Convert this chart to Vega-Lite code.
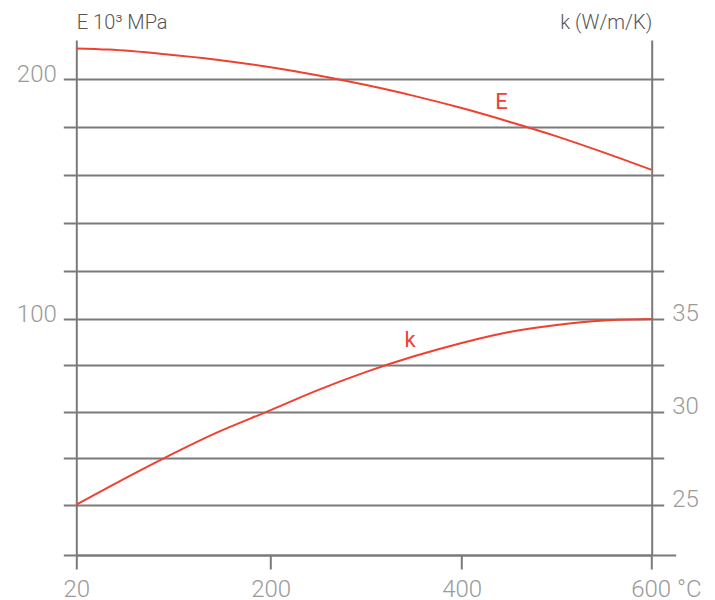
{
  "$schema": "https://vega.github.io/schema/vega-lite/v6.json",
  "autosize": {"type": "none"},
  "width": 575.4,
  "height": 515,
  "padding": {"left": 76.3, "top": 40, "right": 63.3, "bottom": 45},
  "background": "white",
  "config": {"view": {"stroke": null}, "font": "Roboto"},
  "datasets": {
    "E_curve": [
      {"T": 20, "E": 212.9}, {"T": 50, "E": 212.4}, {"T": 100, "E": 210.6},
      {"T": 150, "E": 208.2}, {"T": 200, "E": 205.0}, {"T": 250, "E": 201.6},
      {"T": 300, "E": 197.6}, {"T": 350, "E": 193.1}, {"T": 400, "E": 188.0},
      {"T": 450, "E": 182.3}, {"T": 500, "E": 176.2}, {"T": 550, "E": 169.4},
      {"T": 600, "E": 162.2}
    ],
    "E_label": [{"T": 442, "E": 187.5, "name": "E"}],
    "k_curve": [
      {"T": 20, "k": 25.0}, {"T": 50, "k": 25.95}, {"T": 100, "k": 27.47},
      {"T": 150, "k": 28.88}, {"T": 200, "k": 30.09}, {"T": 250, "k": 31.18},
      {"T": 300, "k": 32.15}, {"T": 350, "k": 32.99}, {"T": 400, "k": 33.71},
      {"T": 450, "k": 34.30}, {"T": 500, "k": 34.68}, {"T": 550, "k": 34.92},
      {"T": 600, "k": 35.0}
    ],
    "k_label": [{"T": 346, "k": 33.5, "name": "k"}]
  },
  "encoding": {
    "x": {
      "field": "T",
      "type": "quantitative",
      "scale": {"domain": [20, 200, 400, 600], "range": [0, 194.4, 385.4, 575.4], "nice": false, "zero": false},
      "axis": {
        "title": null,
        "values": [20, 200, 400, 600],
        "grid": false,
        "domain": true,
        "domainColor": "#7a7a7a",
        "domainWidth": 2,
        "ticks": true,
        "tickSize": 14,
        "tickWidth": 2,
        "tickColor": "#7a7a7a",
        "labelFont": "Roboto",
        "labelFontSize": 24,
        "labelFontWeight": 300,
        "labelColor": "#9a9a9a",
        "labelBaseline": "alphabetic",
        "labelPadding": 27,
        "labelFlush": false,
        "labelOverlap": false,
        "labelBound": false,
        "labelExpr": "datum.value == 600 ? '600 °C' : format(datum.value, 'd')",
        "labelAlign": {"condition": {"test": "datum.value == 600", "value": "left"}, "value": "center"},
        "labelOffset": {"condition": {"test": "datum.value == 600", "value": -21}, "value": 0}
      }
    }
  },
  "layer": [
    {
      "data": {"name": "E_curve"},
      "layer": [
        {
          "mark": {"type": "line", "color": "#ef4130", "strokeWidth": 2, "interpolate": "monotone"},
          "encoding": {
            "y": {
              "field": "E",
              "type": "quantitative",
              "scale": {"domain": [1.55, 216.4], "nice": false, "zero": false},
              "axis": {
                "orient": "left",
                "title": "E 10³ MPa",
                "titleAngle": 0,
                "titleX": 0,
                "titleY": -12,
                "titleAlign": "left",
                "titleBaseline": "alphabetic",
                "titleFont": "Roboto",
                "titleFontSize": 20,
                "titleFontWeight": 300,
                "titleColor": "#555555",
                "values": [1.55, 22.53, 41.9, 61.27, 80.64, 100, 120, 140, 160, 180, 200],
                "grid": true,
                "gridColor": "#7a7a7a",
                "gridWidth": 2,
                "gridOpacity": 1,
                "domain": true,
                "domainColor": "#7a7a7a",
                "domainWidth": 2,
                "tickSize": 13,
                "tickWidth": 2,
                "tickColor": "#7a7a7a",
                "labelFont": "Roboto",
                "labelFontSize": 24,
                "labelFontWeight": 300,
                "labelColor": "#9a9a9a",
                "labelBaseline": "alphabetic",
                "labelOffset": 2,
                "labelPadding": 7,
                "labelFlush": false,
                "labelOverlap": false,
                "labelBound": false,
                "labelExpr": "(datum.value == 100 || datum.value == 200) ? format(datum.value, 'd') : ''"
              }
            }
          }
        },
        {
          "data": {"name": "E_label"},
          "mark": {"type": "text", "color": "#ef4130", "font": "Roboto", "fontSize": 22, "fontWeight": 400, "align": "center", "baseline": "alphabetic"},
          "encoding": {
            "y": {"field": "E", "type": "quantitative"},
            "text": {"field": "name"}
          }
        }
      ]
    },
    {
      "data": {"name": "k_curve"},
      "layer": [
        {
          "mark": {"type": "line", "color": "#ef4130", "strokeWidth": 2, "interpolate": "monotone"},
          "encoding": {
            "y": {
              "field": "k",
              "type": "quantitative",
              "scale": {"domain": [22.29, 50.02], "nice": false, "zero": false},
              "axis": {
                "orient": "right",
                "title": "k (W/m/K)",
                "titleAngle": 0,
                "titleX": 0,
                "titleY": -12,
                "titleAlign": "right",
                "titleBaseline": "alphabetic",
                "titleFont": "Roboto",
                "titleFontSize": 20,
                "titleFontWeight": 300,
                "titleColor": "#555555",
                "values": [22.29, 25, 27.5, 30, 32.5, 35, 37.58, 40.16, 42.74, 45.32, 47.9],
                "grid": false,
                "domain": true,
                "domainColor": "#7a7a7a",
                "domainWidth": 2,
                "tickSize": {"condition": {"test": "datum.value < 23", "value": 24}, "value": 12},
                "tickWidth": 2,
                "tickColor": "#7a7a7a",
                "labelFont": "Roboto",
                "labelFontSize": 24,
                "labelFontWeight": 300,
                "labelColor": "#9a9a9a",
                "labelBaseline": "alphabetic",
                "labelOffset": 1.5,
                "labelPadding": 8,
                "labelFlush": false,
                "labelOverlap": false,
                "labelBound": false,
                "labelExpr": "(datum.value == 25 || datum.value == 30 || datum.value == 35) ? format(datum.value, 'd') : ''"
              }
            }
          }
        },
        {
          "data": {"name": "k_label"},
          "mark": {"type": "text", "color": "#ef4130", "font": "Roboto", "fontSize": 22, "fontWeight": 400, "align": "center", "baseline": "alphabetic"},
          "encoding": {
            "y": {"field": "k", "type": "quantitative"},
            "text": {"field": "name"}
          }
        }
      ]
    }
  ],
  "resolve": {"scale": {"y": "independent"}, "axis": {"y": "independent"}}
}
